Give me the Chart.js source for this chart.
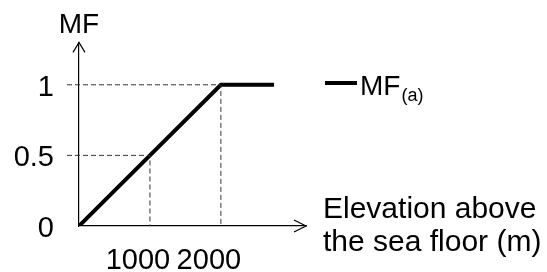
<!DOCTYPE html>
<html>
<head>
<meta charset="utf-8">
<script src="https://cdn.jsdelivr.net/npm/chart.js@4/dist/chart.umd.min.js"></script>
<style>
  html, body { margin: 0; padding: 0; background: #fff; }
  #wrap { width: 547px; height: 272px; }
</style>
</head>
<body>
<div id="wrap"><canvas id="chart" width="547" height="272"></canvas></div>
<script>
// values
const elevation = [0, 1000, 2000, 2750];
const mfValues = [0, 0.5, 1, 1];
const xTicks = [1000, 2000];
const yTicks = [0, 0.5, 1];
// corners that get dashed guide lines to both axes
const guideX = [1000, 2000];
const guideY = [0.5, 1];

const seriesLabel = "MF";
const seriesSub = "(a)";
const yTitle = "MF";
const xTitle = ["Elevation above", "the sea floor (m)"];

const FONT = '"Liberation Sans", Arial, sans-serif';

const decorations = {
  id: "decorations",
  afterDatasetsDraw(chart) {
    const { ctx, chartArea } = chart;
    const x = chart.scales.x;
    const y = chart.scales.y;
    ctx.save();

    // dashed guides
    ctx.strokeStyle = "#333";
    ctx.lineWidth = 1;
    ctx.setLineDash([5, 3]);
    guideX.forEach((gx, i) => {
      const px = x.getPixelForValue(gx);
      const py = y.getPixelForValue(guideY[i]);
      ctx.beginPath();
      ctx.moveTo(chartArea.left - 12, py);
      ctx.lineTo(px, py);
      ctx.lineTo(px, y.getPixelForValue(0));
      ctx.stroke();
    });
    ctx.setLineDash([]);

    // arrow heads on the axes
    const ox = x.getPixelForValue(0);
    const oy = y.getPixelForValue(0);
    ctx.strokeStyle = "#000";
    ctx.lineWidth = 1.2;
    ctx.beginPath();
    ctx.moveTo(ox - 6, chartArea.top + 10);
    ctx.lineTo(ox, chartArea.top);
    ctx.lineTo(ox + 6, chartArea.top + 10);
    ctx.moveTo(chartArea.right - 12, oy - 6);
    ctx.lineTo(chartArea.right, oy);
    ctx.lineTo(chartArea.right - 12, oy + 6);
    ctx.stroke();

    // y title above the arrow
    ctx.fillStyle = "#000";
    ctx.font = `28px ${FONT}`;
    ctx.textAlign = "center";
    ctx.textBaseline = "alphabetic";
    ctx.fillText(yTitle, ox, 33);

    // legend
    ctx.lineWidth = 4;
    ctx.beginPath();
    ctx.moveTo(325, 83);
    ctx.lineTo(357, 83);
    ctx.stroke();
    ctx.textAlign = "left";
    ctx.font = `28px ${FONT}`;
    ctx.fillText(seriesLabel, 360, 95);
    const w = ctx.measureText(seriesLabel).width;
    ctx.font = `18px ${FONT}`;
    ctx.fillText(seriesSub, 360 + w + 1, 101);

    // x title
    ctx.font = `30px ${FONT}`;
    ctx.fillText(xTitle[0], 323, 218);
    ctx.fillText(xTitle[1], 323, 251);
    ctx.restore();
  },
};

new Chart(document.getElementById("chart"), {
  type: "line",
  data: {
    datasets: [
      {
        label: seriesLabel,
        data: elevation.map((e, i) => ({ x: e, y: mfValues[i] })),
        borderColor: "#000",
        borderWidth: 4,
        pointRadius: 0,
        tension: 0,
        borderJoinStyle: "miter",
      },
    ],
  },
  options: {
    responsive: false,
    animation: false,
    layout: { padding: { top: 41, right: 241, left: 0, bottom: 0 } },
    plugins: { legend: { display: false }, tooltip: { enabled: false } },
    scales: {
      x: {
        type: "linear",
        min: 0,
        max: 3200,
        afterBuildTicks: (scale) => { scale.ticks = xTicks.map((v) => ({ value: v })); },
        afterFit: (scale) => { scale.height = 46; },
        grid: { display: false, drawTicks: false },
        border: { display: true, color: "#000", width: 1.2 },
        ticks: {
          color: "#000",
          font: { family: FONT, size: 29 },
          padding: 18,
          labelOffset: -12,
          maxRotation: 0,
          callback: (v) => String(v),
        },
      },
      y: {
        min: 0,
        max: 1.3,
        afterBuildTicks: (scale) => { scale.ticks = yTicks.map((v) => ({ value: v })); },
        afterFit: (scale) => { scale.width = 79; },
        grid: { display: false, drawTicks: false },
        border: { display: true, color: "#000", width: 1.2 },
        ticks: {
          color: "#000",
          font: { family: FONT, size: 29 },
          padding: 25,
          labelOffset: 3,
          callback: (v) => String(v),
        },
      },
    },
  },
  plugins: [decorations],
});
</script>
</body>
</html>
